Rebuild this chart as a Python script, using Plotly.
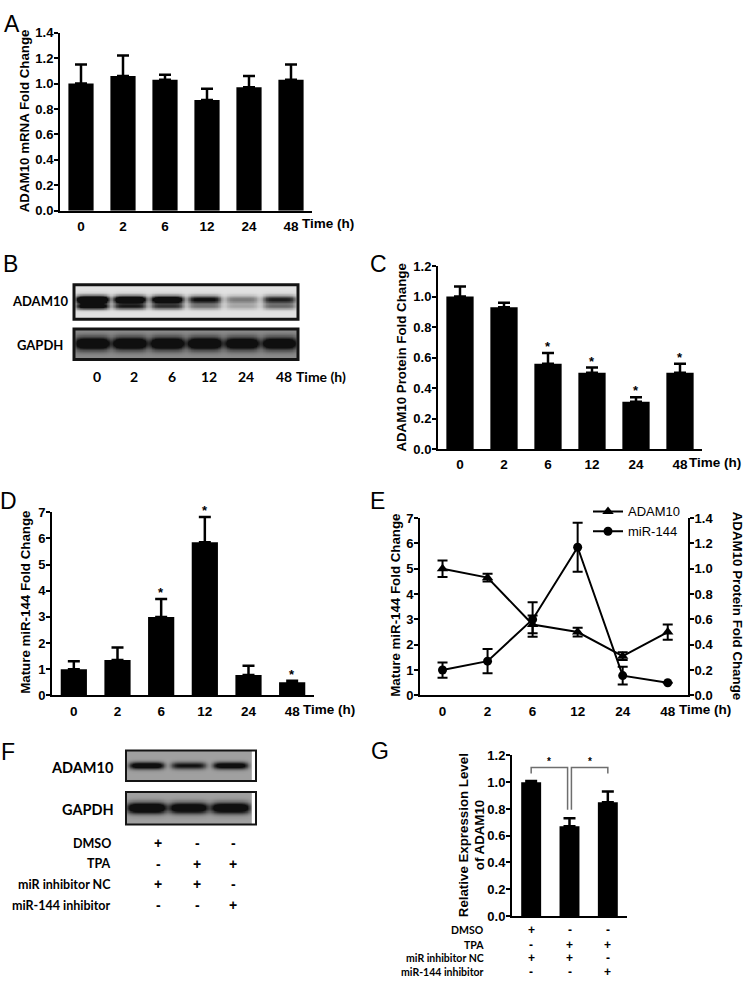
import numpy as np
import plotly.graph_objects as go

W, H = 745, 987

# ---------------- data ----------------
time_labels = ["0", "2", "6", "12", "24", "48"]
mrna_mean = [1.00, 1.06, 1.03, 0.87, 0.97, 1.03]
mrna_err = [0.15, 0.16, 0.04, 0.09, 0.09, 0.12]
protein_mean = [1.00, 0.93, 0.56, 0.50, 0.31, 0.50]
protein_err = [0.065, 0.03, 0.07, 0.035, 0.03, 0.06]
protein_sig = [False, False, True, True, True, True]
mir_mean = [1.00, 1.35, 3.00, 5.85, 0.78, 0.50]
mir_err = [0.30, 0.48, 0.68, 0.97, 0.35, 0.06]
mir_sig = [False, False, True, True, False, True]

blotB_adam_upper = [1.7, 1.5, 1.4, 1.05, 0.5, 0.95]
blotB_adam_lower = [1.1, 0.85, 0.75, 0.45, 0.25, 0.5]
blotB_gapdh = [1.7, 1.7, 1.7, 1.7, 1.6, 1.6]

treat_rows = ["DMSO", "TPA", "miR inhibitor NC", "miR-144 inhibitor"]
treat_matrix = [["+", "-", "-"], ["-", "+", "+"], ["+", "+", "-"], ["-", "-", "+"]]
blotF_adam = [1.35, 1.0, 1.3]
blotF_gapdh = [1.6, 1.45, 1.5]
rel_mean = [1.00, 0.67, 0.85]
rel_err = [0.01, 0.06, 0.08]
sig_pairs = [(0, 1), (1, 2)]
bracket_top = 1.11
bracket_legs = [(1.065, 0.795), (0.795, 1.065)]

# ---------------- helpers ----------------
ARIAL = "Liberation Sans, Arial, sans-serif"
NARROW = "Lato, Liberation Sans, Arial, sans-serif"


def xd(a, b):
    return [a / W, b / W]


def yd(top, bottom):
    return [1 - bottom / H, 1 - top / H]


def px(x):
    return x / W


def py(y):
    return 1 - y / H


def yaxis_num(dom, rng, dtick, fmt, anchor, **kw):
    d = dict(domain=dom, range=rng, showline=True, linecolor="black", linewidth=2,
             ticks="outside", ticklen=4, tickwidth=2, tickcolor="black", dtick=dtick,
             tick0=0, tickformat=fmt, showgrid=False, zeroline=False, anchor=anchor,
             ticklabelstandoff=-2,
             tickfont=dict(family=ARIAL, size=13, color="black", weight="bold"),
             fixedrange=True)
    d.update(kw)
    return d


def xaxis_cat(dom, n, labels, anchor, rng=None, show=True):
    return dict(domain=dom, range=rng or [-0.5, n - 0.5], tickmode="array",
                tickvals=list(range(n)), ticktext=labels, showline=True,
                linecolor="black", linewidth=2, ticks="", showgrid=False,
                zeroline=False, anchor=anchor, showticklabels=show,
                ticklabelstandoff=2,
                tickfont=dict(family=ARIAL, size=13.5, color="black", weight="bold"),
                fixedrange=True)


def blank_axis(dom, rng, anchor):
    return dict(domain=dom, range=rng, visible=False, showgrid=False,
                zeroline=False, anchor=anchor, fixedrange=True)


def blot_image(lanes_list, ypos_list, sy_list, bg, halfw, ncol=300, nrow=60):
    n = len(lanes_list[0])
    xs = np.linspace(-0.5, n - 0.5, ncol)
    ys = np.linspace(0, 1, nrow)
    X, Y = np.meshgrid(xs, ys)
    d = np.zeros_like(X)
    for inten, yb, sy in zip(lanes_list, ypos_list, sy_list):
        for i, v in enumerate(inten):
            d += v * np.exp(-(np.abs(X - i) / halfw) ** 6) * np.exp(-((Y - yb) / sy) ** 2)
    d = np.clip(d, 0, 1)
    z = bg * (1 - d) + 0.03 * d
    return xs, ys, z


fig = go.Figure()
idx6 = list(range(6))

err_bar = lambda arr: dict(type="data", array=arr, arrayminus=[0] * len(arr),
                           symmetric=False, color="black", thickness=2.5, width=6)

# ---------------- A ----------------
fig.add_trace(go.Bar(x=idx6, y=mrna_mean, width=0.6, marker=dict(color="black", line_width=0),
                     error_y=err_bar(mrna_err), xaxis="x", yaxis="y", showlegend=False))

# ---------------- B blots ----------------
gray = [[0, "rgb(8,8,8)"], [1, "rgb(250,250,250)"]]
xs, ys, z = blot_image([blotB_adam_upper, blotB_adam_lower], [0.56, 0.36], [0.12, 0.085], 0.9, 0.45)
fig.add_trace(go.Heatmap(x=xs, y=ys, z=z, colorscale=gray, zmin=0, zmax=1, showscale=False,
                         xaxis="x2", yaxis="y2", hoverinfo="skip"))
xs, ys, z = blot_image([blotB_gapdh], [0.52], [0.21], 0.55, 0.47)
fig.add_trace(go.Heatmap(x=xs, y=ys, z=z, colorscale=gray, zmin=0, zmax=1, showscale=False,
                         xaxis="x3", yaxis="y3", hoverinfo="skip"))

# ---------------- C ----------------
fig.add_trace(go.Bar(x=idx6, y=protein_mean, width=0.62, marker=dict(color="black", line_width=0),
                     error_y=err_bar(protein_err), xaxis="x4", yaxis="y4", showlegend=False))

# ---------------- D ----------------
fig.add_trace(go.Bar(x=idx6, y=mir_mean, width=0.6, marker=dict(color="black", line_width=0),
                     error_y=err_bar(mir_err), xaxis="x5", yaxis="y5", showlegend=False))

# ---------------- E ----------------
fig.add_trace(go.Scatter(x=idx6, y=protein_mean, name="ADAM10", mode="lines+markers",
                         marker=dict(symbol="triangle-up", size=10, color="black"),
                         line=dict(color="black", width=2),
                         error_y=dict(type="data", array=protein_err, color="black", thickness=2, width=5),
                         xaxis="x6", yaxis="y7"))
fig.add_trace(go.Scatter(x=idx6, y=mir_mean, name="miR-144", mode="lines+markers",
                         marker=dict(symbol="circle", size=9, color="black"),
                         line=dict(color="black", width=2),
                         error_y=dict(type="data", array=mir_err[:5] + [0], color="black", thickness=2, width=5),
                         xaxis="x6", yaxis="y6"))

# ---------------- F blots ----------------
xs, ys, z = blot_image([blotF_adam], [0.5], [0.12], 0.63, 0.42)
fig.add_trace(go.Heatmap(x=xs, y=ys, z=z, colorscale=gray, zmin=0, zmax=1, showscale=False,
                         xaxis="x7", yaxis="y8", hoverinfo="skip"))
xs, ys, z = blot_image([blotF_gapdh], [0.5], [0.17], 0.63, 0.47)
fig.add_trace(go.Heatmap(x=xs, y=ys, z=z, colorscale=gray, zmin=0, zmax=1, showscale=False,
                         xaxis="x8", yaxis="y9", hoverinfo="skip"))

# ---------------- G ----------------
fig.add_trace(go.Bar(x=[0, 1, 2], y=rel_mean, width=0.52, marker=dict(color="black", line_width=0),
                     error_y=err_bar(rel_err), xaxis="x9", yaxis="y10", showlegend=False))

# ---------------- layout axes ----------------
lay = dict(
    xaxis=xaxis_cat(xd(60, 312), 6, time_labels, "y"),
    yaxis=yaxis_num(yd(26, 207), [0, 1.4001], 0.2, ".1f", "x"),
    xaxis2=blank_axis(xd(74, 298), [-0.5, 5.5], "y2"),
    yaxis2=blank_axis(yd(282, 317), [0, 1], "x2"),
    xaxis3=blank_axis(xd(74, 298), [-0.5, 5.5], "y3"),
    yaxis3=blank_axis(yd(327, 358), [0, 1], "x3"),
    xaxis4=xaxis_cat(xd(438, 702), 6, time_labels, "y4"),
    yaxis4=yaxis_num(yd(263, 449), [0, 1.2001], 0.2, ".1f", "x4"),
    xaxis5=xaxis_cat(xd(52, 314), 6, time_labels, "y5"),
    yaxis5=yaxis_num(yd(513, 699), [0, 7.001], 1, "d", "x5"),
    xaxis6=xaxis_cat(xd(420, 688), 6, time_labels, "y6", rng=[-0.5, 5.45]),
    yaxis6=yaxis_num(yd(519, 699), [0, 7.001], 1, "d", "x6"),
    yaxis7=yaxis_num(yd(519, 699), [0, 1.4001], 0.2, ".1f", "x6", overlaying="y6", side="right"),
    xaxis7=blank_axis(xd(126, 256), [-0.5, 2.6], "y8"),
    yaxis8=blank_axis(yd(755, 786), [0, 1], "x7"),
    xaxis8=blank_axis(xd(126, 256), [-0.5, 2.6], "y9"),
    yaxis9=blank_axis(yd(797, 830), [0, 1], "x8"),
    xaxis9=xaxis_cat(xd(512, 627), 3, ["", "", ""], "y10", show=False),
    yaxis10=yaxis_num(yd(760, 923), [0, 1.2001], 0.2, ".1f", "x9"),
)

annotations = []
shapes = []


def ann(x, y, text, size=12, family=ARIAL, bold=True, xanchor="center", yanchor="middle",
        angle=0, xref="paper", yref="paper", color="black", yshift=0):
    annotations.append(dict(x=x, y=y, text=text, xref=xref, yref=yref, showarrow=False,
                            xanchor=xanchor, yanchor=yanchor, textangle=angle, yshift=yshift,
                            font=dict(family=family, size=size, color=color,
                                      weight="bold" if bold else "normal")))


# panel letters
for letter, (lx, ly) in {"A": (12, 17), "B": (10, 261), "C": (379, 261), "D": (8, 502),
                         "E": (377, 502), "F": (8, 757), "G": (380, 755)}.items():
    ann(px(lx), py(ly), letter, size=23, bold=False)

# axis titles
TS = 13.3
ann(px(24), py(116), "ADAM10 mRNA Fold Change", size=TS, angle=-90)
ann(px(402), py(356), "ADAM10 Protein Fold Change", size=TS, angle=-90)
ann(px(26), py(605), "Mature miR-144 Fold Change", size=TS, angle=-90)
ann(px(396), py(608), "Mature miR-144 Fold Change", size=TS, angle=-90)
ann(px(737), py(608), "ADAM10 Protein Fold Change", size=TS, angle=90)
ann(px(463), py(841), "Relative Expression Level", size=TS, angle=-90)
ann(px(479), py(841), "of ADAM10", size=TS, angle=-90)

# Time (h) labels
ann(px(328), py(220), "Time (h)", size=13.5)
ann(px(743), py(463), "Time (h)", size=13.5, xanchor="right")
ann(px(329), py(713), "Time (h)", size=13.5)
ann(px(733), py(713), "Time (h)", size=13.5, xanchor="right")

# B blot labels
ann(px(40), py(299), "ADAM10", size=13, family=NARROW)
ann(px(40), py(343), "GAPDH", size=13, family=NARROW)
for i, t in enumerate(time_labels):
    ann(i + 0.12, py(375), t, size=14, family=NARROW, xref="x3")
ann(px(321), py(375), "Time (h)", size=14, family=NARROW)

# stars C and D
for i, s in enumerate(protein_sig):
    if s:
        ann(i, protein_mean[i] + protein_err[i], "*", size=13, xref="x4", yref="y4",
            yanchor="bottom", yshift=-3)
for i, s in enumerate(mir_sig):
    if s:
        ann(i, mir_mean[i] + mir_err[i], "*", size=13, xref="x5", yref="y5",
            yanchor="bottom", yshift=-3)

# F labels and table
ann(px(116), py(772), "ADAM10", size=14.5, family=NARROW, xanchor="right")
ann(px(116), py(815), "GAPDH", size=14.5, family=NARROW, xanchor="right")
f_rows_y = [849, 870, 891, 912]
f_cols_x = [158, 197, 233]
for r, (lab, row) in enumerate(zip(treat_rows, treat_matrix)):
    ann(px(113), py(f_rows_y[r]), lab, size=12.5, family=NARROW, xanchor="right")
    for c, sym in enumerate(row):
        ann(px(f_cols_x[c]), py(f_rows_y[r]), sym, size=14, family=ARIAL)

# G table
g_rows_y = [937, 952, 966, 980]
for r, (lab, row) in enumerate(zip(treat_rows, treat_matrix)):
    ann(px(486), py(g_rows_y[r]), lab, size=10.5, family=NARROW, xanchor="right")
    for c, sym in enumerate(row):
        ann(c, py(g_rows_y[r]), sym, size=12, family=ARIAL, xref="x9")

# G brackets
for (i, j), (l0, l1) in zip(sig_pairs, bracket_legs):
    xa = i + (0.05 if i > 0 else 0)
    xb = j - (0.05 if j < 2 else 0)
    shapes.append(dict(type="path", xref="x9", yref="y10",
                       path=f"M {xa} {l0} L {xa} {bracket_top} L {xb} {bracket_top} L {xb} {l1}",
                       line=dict(color="rgb(110,110,110)", width=1.5)))
    ann((xa + xb) / 2, bracket_top, "*", size=10, xref="x9", yref="y10", yanchor="bottom", yshift=-2)

# blot borders
for xr, yr, w in [("x2", "y2", 3), ("x3", "y3", 3), ("x7", "y8", 2), ("x8", "y9", 2)]:
    shapes.append(dict(type="rect", xref=f"{xr} domain", yref=f"{yr} domain", x0=0, x1=1,
                       y0=0, y1=1, line=dict(color="rgb(20,20,20)", width=w)))

fig.update_layout(
    width=W, height=H, margin=dict(l=0, r=0, t=0, b=0),
    paper_bgcolor="white", plot_bgcolor="rgba(0,0,0,0)",
    annotations=annotations, shapes=shapes, showlegend=True,
    legend=dict(x=px(588), y=py(497), xanchor="left", yanchor="top",
                bgcolor="rgba(0,0,0,0)", itemwidth=30, tracegroupgap=0,
                font=dict(family=ARIAL, size=13, color="black")),
    **lay,
)
fig.write_html("out.html", config={"displayModeBar": False},
               post_script="document.body.style.margin='0px';document.body.style.overflow='hidden';")
